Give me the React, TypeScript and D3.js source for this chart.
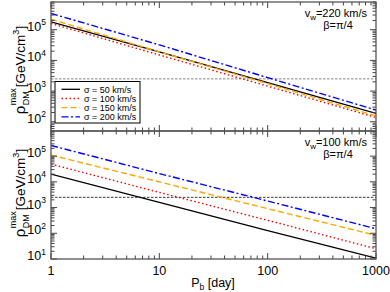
import { useEffect, useRef } from "react";
import * as d3 from "d3";

const periods = [1, 10, 100, 1000];
const sigmaLabels = ["σ = 50 km/s", "σ = 100 km/s", "σ = 150 km/s", "σ = 200 km/s"];

// v_w = 220 km/s
const rhoTop50 = [1.8e5, 1.9e4, 1.9e3, 186];
const rhoTop100 = [1.6e5, 1.5e4, 1.45e3, 138];
const rhoTop150 = [2.2e5, 1.9e4, 1.75e3, 155];
const rhoTop200 = [3.4e5, 3.2e4, 2.75e3, 240];

// v_w = 100 km/s
const rhoBot50 = [2.0e4, 1.6e3, 126, 10.7];
const rhoBot100 = [4.9e4, 3.9e3, 320, 25];
const rhoBot150 = [1.1e5, 1.0e4, 910, 83];
const rhoBot200 = [2.6e5, 2.1e4, 1.8e3, 150];

const rhoRef = 2500;
const xTickLabels = ["1", "10", "100", "1000"];

const W = 390;
const H = 292;
const FONT = "'Liberation Sans', Arial, sans-serif";

const lineStyles = [
  { color: "#000000", dash: "" },
  { color: "#ff0000", dash: "1.5,2.5" },
  { color: "#ffa500", dash: "6,3" },
  { color: "#0000ff", dash: "7,2.5,2,2.5" },
];

interface Panel {
  top: number;
  bottom: number;
  domain: [number, number];
  series: number[][];
  vw: string;
  refColor: string;
  labelCenter: number;
}

export default function App() {
  const ref = useRef<SVGSVGElement | null>(null);

  useEffect(() => {
    if (!ref.current) return;
    const svg = d3.select(ref.current);
    svg.selectAll("*").remove();

    const left = 51;
    const right = 376;
    const x = d3.scaleLog().domain([1, 1000]).range([left, right]);

    const panels: Panel[] = [
      {
        top: 2,
        bottom: 131,
        domain: [50, 8e5],
        series: [rhoTop50, rhoTop100, rhoTop150, rhoTop200],
        vw: "220",
        refColor: "#777",
        labelCenter: 70,
      },
      {
        top: 131,
        bottom: 259,
        domain: [10, 9.5e5],
        series: [rhoBot50, rhoBot100, rhoBot150, rhoBot200],
        vw: "100",
        refColor: "#222",
        labelCenter: 193,
      },
    ];

    panels.forEach((p, pi) => {
      const y = d3.scaleLog().domain(p.domain).range([p.bottom, p.top]);
      const g = svg.append("g");

      const clipId = `clip${pi}`;
      svg
        .append("clipPath")
        .attr("id", clipId)
        .append("rect")
        .attr("x", left)
        .attr("y", p.top)
        .attr("width", right - left)
        .attr("height", p.bottom - p.top);

      // reference density line
      g.append("line")
        .attr("x1", left)
        .attr("x2", right)
        .attr("y1", y(rhoRef))
        .attr("y2", y(rhoRef))
        .attr("stroke", p.refColor)
        .attr("stroke-width", 0.9)
        .attr("stroke-dasharray", "2.5,1.5");

      const line = d3
        .line<number>()
        .x((_, i) => x(periods[i]))
        .y((d) => y(d));

      const lines = g.append("g").attr("clip-path", `url(#${clipId})`);
      p.series.forEach((s, si) => {
        lines
          .append("path")
          .attr("d", line(s))
          .attr("fill", "none")
          .attr("stroke", lineStyles[si].color)
          .attr("stroke-width", si === 0 ? 1.3 : 1.4)
          .attr("stroke-dasharray", lineStyles[si].dash || null);
      });

      // ticks
      const isMajor = (v: number) => Math.abs(Math.log10(v) - Math.round(Math.log10(v))) < 1e-6;
      const tickColor = "#444";
      x.ticks().forEach((t) => {
        const len = isMajor(t) ? 6 : 3.5;
        const xx = x(t);
        g.append("line").attr("x1", xx).attr("x2", xx).attr("y1", p.top).attr("y2", p.top + len)
          .attr("stroke", tickColor).attr("stroke-width", 1);
        g.append("line").attr("x1", xx).attr("x2", xx).attr("y1", p.bottom).attr("y2", p.bottom - len)
          .attr("stroke", tickColor).attr("stroke-width", 1);
      });
      y.ticks().forEach((t) => {
        const len = isMajor(t) ? 6 : 3.5;
        const yy = y(t);
        g.append("line").attr("x1", left).attr("x2", left + len).attr("y1", yy).attr("y2", yy)
          .attr("stroke", tickColor).attr("stroke-width", 1);
        g.append("line").attr("x1", right).attr("x2", right - len).attr("y1", yy).attr("y2", yy)
          .attr("stroke", tickColor).attr("stroke-width", 1);
        if (isMajor(t)) {
          const ex = Math.round(Math.log10(t));
          const tx = g.append("text")
            .attr("x", left - 5)
            .attr("y", yy + 1)
            .attr("text-anchor", "end")
            .style("font", `12.5px ${FONT}`);
          tx.append("tspan").text("10");
          tx.append("tspan").attr("dy", -5.5).style("font-size", "8.5px").text(String(ex));
        }
      });

      // frame
      g.append("rect")
        .attr("x", left)
        .attr("y", p.top)
        .attr("width", right - left)
        .attr("height", p.bottom - p.top)
        .attr("fill", "none")
        .attr("stroke", "#555")
        .attr("stroke-width", 1.3);

      // annotation
      const ann = g.append("text")
        .attr("x", 367)
        .attr("y", p.top + 15)
        .attr("text-anchor", "end")
        .style("font", `11px ${FONT}`);
      ann.append("tspan").text("v");
      ann.append("tspan").attr("dy", 3).style("font-size", "8px").text("w");
      ann.append("tspan").attr("dy", -3).text(`=${p.vw} km/s`);
      g.append("text")
        .attr("x", 338)
        .attr("y", p.top + 27)
        .attr("text-anchor", "middle")
        .style("font", `11px ${FONT}`)
        .text("β=π/4");

      // y label
      const lab = g.append("g");
      lab.append("text").attr("x", 0).attr("y", 0).style("font", `15px ${FONT}`).text("ρ");
      lab.append("text").attr("x", 9).attr("y", -9).style("font", `9px ${FONT}`).text("max");
      lab.append("text").attr("x", 9).attr("y", 3.5).style("font", `9px ${FONT}`).text("DM");
      const rest = lab.append("text").attr("x", 27).attr("y", 0).style("font", `13.5px ${FONT}`);
      rest.append("tspan").text("[GeV/cm");
      rest.append("tspan").attr("dy", -6).style("font-size", "9px").text("3");
      rest.append("tspan").attr("dy", 6).text("]");
      const bb = (lab.node() as SVGGElement).getBBox();
      lab.attr("transform", `translate(25,${p.labelCenter}) rotate(-90) translate(${-bb.width / 2},0)`);
    });

    // x tick labels
    periods.forEach((pv, i) => {
      svg.append("text")
        .attr("x", x(pv))
        .attr("y", 275)
        .attr("text-anchor", "middle")
        .style("font", `12.5px ${FONT}`)
        .text(xTickLabels[i]);
    });

    const xl = svg.append("text")
      .attr("x", 213)
      .attr("y", 287)
      .attr("text-anchor", "middle")
      .style("font", `12.5px ${FONT}`);
    xl.append("tspan").text("P");
    xl.append("tspan").attr("dy", 3).style("font-size", "8.5px").text("b");
    xl.append("tspan").attr("dy", -3).text(" [day]");

    // legend
    const lg = svg.append("g");
    lg.append("rect")
      .attr("x", 55)
      .attr("y", 81.5)
      .attr("width", 85)
      .attr("height", 41.5)
      .attr("fill", "#fff")
      .attr("stroke", "#000")
      .attr("stroke-width", 1);
    sigmaLabels.forEach((s, i) => {
      const ly = 89.3 + i * 9.2;
      lg.append("line")
        .attr("x1", 61.5)
        .attr("x2", 80)
        .attr("y1", ly)
        .attr("y2", ly)
        .attr("stroke", lineStyles[i].color)
        .attr("stroke-width", 1.3)
        .attr("stroke-dasharray", lineStyles[i].dash || null);
      lg.append("text")
        .attr("x", 84)
        .attr("y", ly + 3.2)
        .style("font", `9px ${FONT}`)
        .text(s);
    });
  }, []);

  return (
    <svg
      ref={ref}
      width={W}
      height={H}
      style={{ position: "absolute", left: 0, top: 0, background: "#fff" }}
    />
  );
}
